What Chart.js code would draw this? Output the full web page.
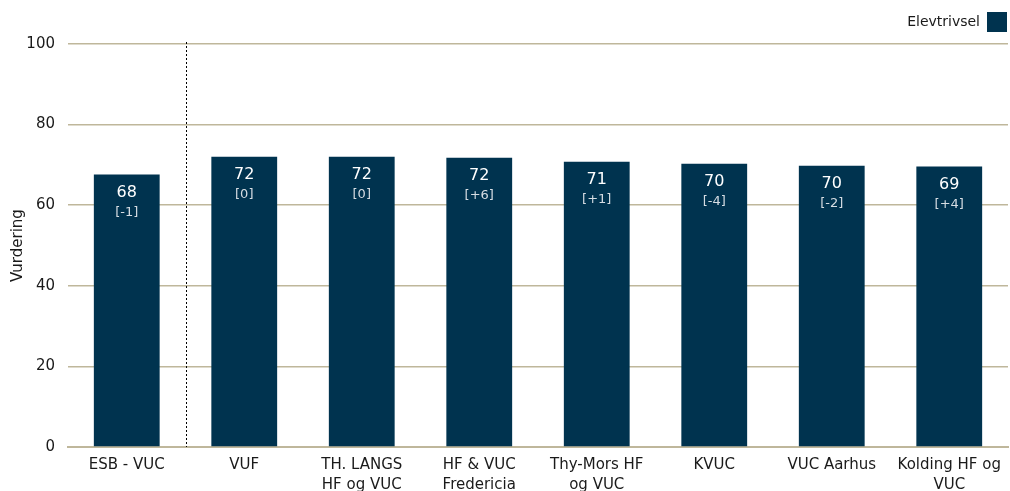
<!DOCTYPE html>
<html>
<head>
<meta charset="utf-8">
<script src="https://cdn.jsdelivr.net/npm/chart.js@4"></script>
<style>
  html, body { margin: 0; padding: 0; background: #fff; }
  #wrap { width: 1010px; height: 491px; position: relative; }
</style>
</head>
<body>
<div id="wrap"><canvas id="chart"></canvas></div>
<script>
// Chart data
const categories = [
  ['ESB - VUC'],
  ['VUF'],
  ['TH. LANGS', 'HF og VUC'],
  ['HF & VUC', 'Fredericia'],
  ['Thy-Mors HF', 'og VUC'],
  ['KVUC'],
  ['VUC Aarhus'],
  ['Kolding HF og', 'VUC']
];
const scores = [67.6, 72.0, 72.0, 71.8, 70.8, 70.3, 69.8, 69.6];
const scoreLabels = ['68', '72', '72', '72', '71', '70', '70', '69'];
const changeLabels = ['[-1]', '[0]', '[0]', '[+6]', '[+1]', '[-4]', '[-2]', '[+4]'];
const yTicks = [0, 20, 40, 60, 80, 100];

const barColor = '#00334f';
const gridColor = '#bfb79b';
const fontFamily = 'Tahoma, "DejaVu Sans", sans-serif';

/**
 * Writes the score and the change inside the top of each bar
 */
const barLabels = {
  id: 'barLabels',
  afterDatasetsDraw(chart) {
    const ctx = chart.ctx;
    const meta = chart.getDatasetMeta(0);
    ctx.save();
    ctx.textAlign = 'center';
    ctx.textBaseline = 'middle';
    meta.data.forEach((bar, i) => {
      ctx.fillStyle = '#ffffff';
      ctx.font = '16px ' + fontFamily;
      ctx.fillText(scoreLabels[i], bar.x, bar.y + 18);
      ctx.fillStyle = '#d6dde3';
      ctx.font = '13px ' + fontFamily;
      ctx.fillText(changeLabels[i], bar.x, bar.y + 38);
    });
    ctx.restore();
  }
};

/**
 * Dotted separator between the first school and the rest
 */
const separator = {
  id: 'separator',
  afterDatasetsDraw(chart) {
    const x = chart.scales.x;
    const y = chart.scales.y;
    const sx = (x.getPixelForValue(0) + x.getPixelForValue(1)) / 2;
    const ctx = chart.ctx;
    ctx.save();
    ctx.strokeStyle = '#000000';
    ctx.lineWidth = 1;
    ctx.setLineDash([2, 2]);
    ctx.beginPath();
    ctx.moveTo(Math.round(sx) + 0.5, y.getPixelForValue(100) - 2);
    ctx.lineTo(Math.round(sx) + 0.5, y.getPixelForValue(0));
    ctx.stroke();
    ctx.restore();
  }
};

/**
 * Extra space between the legend and the plot
 */
const legendGap = {
  id: 'legendGap',
  beforeInit(chart) {
    const legend = chart.legend;
    if (!legend) return;
    const fit = legend.fit;
    legend.fit = function () {
      fit.call(this);
      this.height += 2;
    };
  }
};

const ctx = document.getElementById('chart').getContext('2d');
window.mainChart = new Chart(ctx, {
  type: 'bar',
  data: {
    labels: categories,
    datasets: [{
      label: 'Elevtrivsel',
      data: scores,
      backgroundColor: barColor,
      borderWidth: 0,
      barPercentage: 0.56,
      categoryPercentage: 1
    }]
  },
  options: {
    responsive: true,
    maintainAspectRatio: false,
    animation: false,
    layout: {
      padding: { top: 11, right: 2, left: 9, bottom: 0 }
    },
    plugins: {
      legend: {
        position: 'top',
        align: 'start',
        rtl: true,
        labels: {
          boxWidth: 20,
          boxHeight: 20,
          padding: 1,
          color: '#1a1a1a',
          font: { family: fontFamily, size: 14 }
        }
      },
      tooltip: { enabled: false }
    },
    scales: {
      x: {
        afterFit: axis => { axis.height = 44; },
        grid: { display: false, drawTicks: false },
        border: { display: true, color: gridColor, width: 2 },
        ticks: {
          color: '#1a1a1a',
          padding: 8,
          maxRotation: 0,
          autoSkip: false,
          font: { family: fontFamily, size: 15, lineHeight: 1.35 }
        }
      },
      y: {
        min: 0,
        max: 100,
        afterBuildTicks: axis => { axis.ticks = yTicks.map(v => ({ value: v })); },
        afterFit: axis => { axis.width = 59; },
        grid: { color: gridColor, lineWidth: 1.5, drawTicks: false },
        border: { display: false },
        ticks: {
          color: '#1a1a1a',
          padding: 13,
          font: { family: fontFamily, size: 15 }
        },
        title: {
          display: true,
          text: 'Vurdering',
          color: '#1a1a1a',
          padding: { top: 0, bottom: 0 },
          font: { family: fontFamily, size: 15 }
        }
      }
    }
  },
  plugins: [barLabels, separator, legendGap]
});
</script>
</body>
</html>
